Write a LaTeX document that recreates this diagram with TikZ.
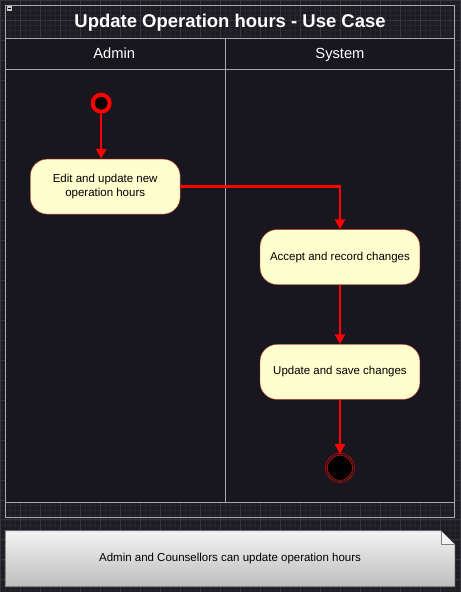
\documentclass[tikz,border=0pt]{standalone}
\usepackage{fontspec}
\setmainfont{Liberation Sans}
\usetikzlibrary{arrows.meta}
\definecolor{umlbg}{HTML}{1D1C23}
\definecolor{umllane}{HTML}{18161E}
\definecolor{umlfine}{HTML}{26252C}
\definecolor{umlgrid}{HTML}{36353C}
\definecolor{umlframe}{HTML}{A8A8A8}
\definecolor{umlred}{HTML}{FF0000}
\definecolor{umlnode}{HTML}{FEFECE}
\definecolor{umlborder}{HTML}{D03A2A}
\definecolor{notetop}{HTML}{F4F4F4}
\definecolor{notebot}{HTML}{BDBDBD}

\begin{document}
\begin{tikzpicture}[x=1pt, y=-1pt,
    action/.style={draw=umlborder, fill=umlnode, rounded corners=17pt, minimum height=55pt,
                   inner sep=0pt, align=center, font=\fontsize{11.5}{13.5}\selectfont},
    flow/.style={draw=umlred, line width=2.6pt, -{Triangle[length=10pt, width=10pt]}},
    lanehead/.style={text=white, anchor=base, font=\fontsize{14.7}{17}\selectfont}]
    % background and grid
    \fill[umlbg] (0,0) rectangle (460,592);
    \draw[umlfine, line width=0.3pt, step=5pt] (0,0) grid (460,592);
    \draw[umlgrid, line width=0.6pt, step=20pt] (0,0) grid (460,592);

    % swimlanes
    \draw[umlframe, line width=1pt] (5,5) rectangle (455,518);
    \fill[umllane] (5,38) rectangle (455,503);
    \draw[umlframe, line width=1pt] (5,38) rectangle (455,503);
    \draw[umlframe, line width=1pt] (5,69) -- (455,69);
    \draw[umlframe, line width=1pt] (225,38) -- (225,503);
    \fill[umlframe!60!white] (7,6) rectangle (12,11);
    \draw[black, line width=0.6pt] (8,8.5) -- (11,8.5);
    \node[text=white, font=\fontsize{18.5}{21}\selectfont\bfseries] (title) at (230,22) {Update Operation hours - Use Case};
    \node[lanehead] (admin) at (114,58.5) {Admin};
    \node[lanehead] (system) at (340,58.5) {System};

    % activities
    \node[circle, draw=umlred, line width=4pt, fill=black, minimum size=17pt, inner sep=0pt] (start) at (101,103) {};
    \node[action, minimum width=150pt] (edit) at (105,186.5) {Edit and update new\\operation hours};
    \node[action, minimum width=160pt] (accept) at (340,257) {Accept and record changes};
    \node[action, minimum width=160pt] (save) at (340,372) {Update and save changes};
    \node[circle, draw=umlred!85!black, line width=0.7pt, double=umllane, double distance=1.2pt,
          fill=black, minimum size=27pt, inner sep=0pt] (stop) at (340,468) {};

    \draw[flow] (start) -- (start |- edit.north);
    \draw[flow] (edit.east) -| (accept.north);
    \draw[flow] (accept) -- (save);
    \draw[flow] (save) -- (stop);

    % note
    \shade[top color=notetop, bottom color=notebot] (5,531) -- (441,531) -- (455,545) -- (455,587) -- (5,587) -- cycle;
    \draw[gray, line width=0.6pt] (5,531) -- (441,531) -- (455,545) -- (455,587) -- (5,587) -- cycle;
    \fill[notetop] (441,531) -- (441,545) -- (455,545) -- cycle;
    \draw[gray, line width=0.6pt] (441,531) -- (441,545) -- (455,545);
    \node[font=\fontsize{11.5}{13.5}\selectfont] (note) at (230,558.5) {Admin and Counsellors can update operation hours};
\end{tikzpicture}
\end{document}
